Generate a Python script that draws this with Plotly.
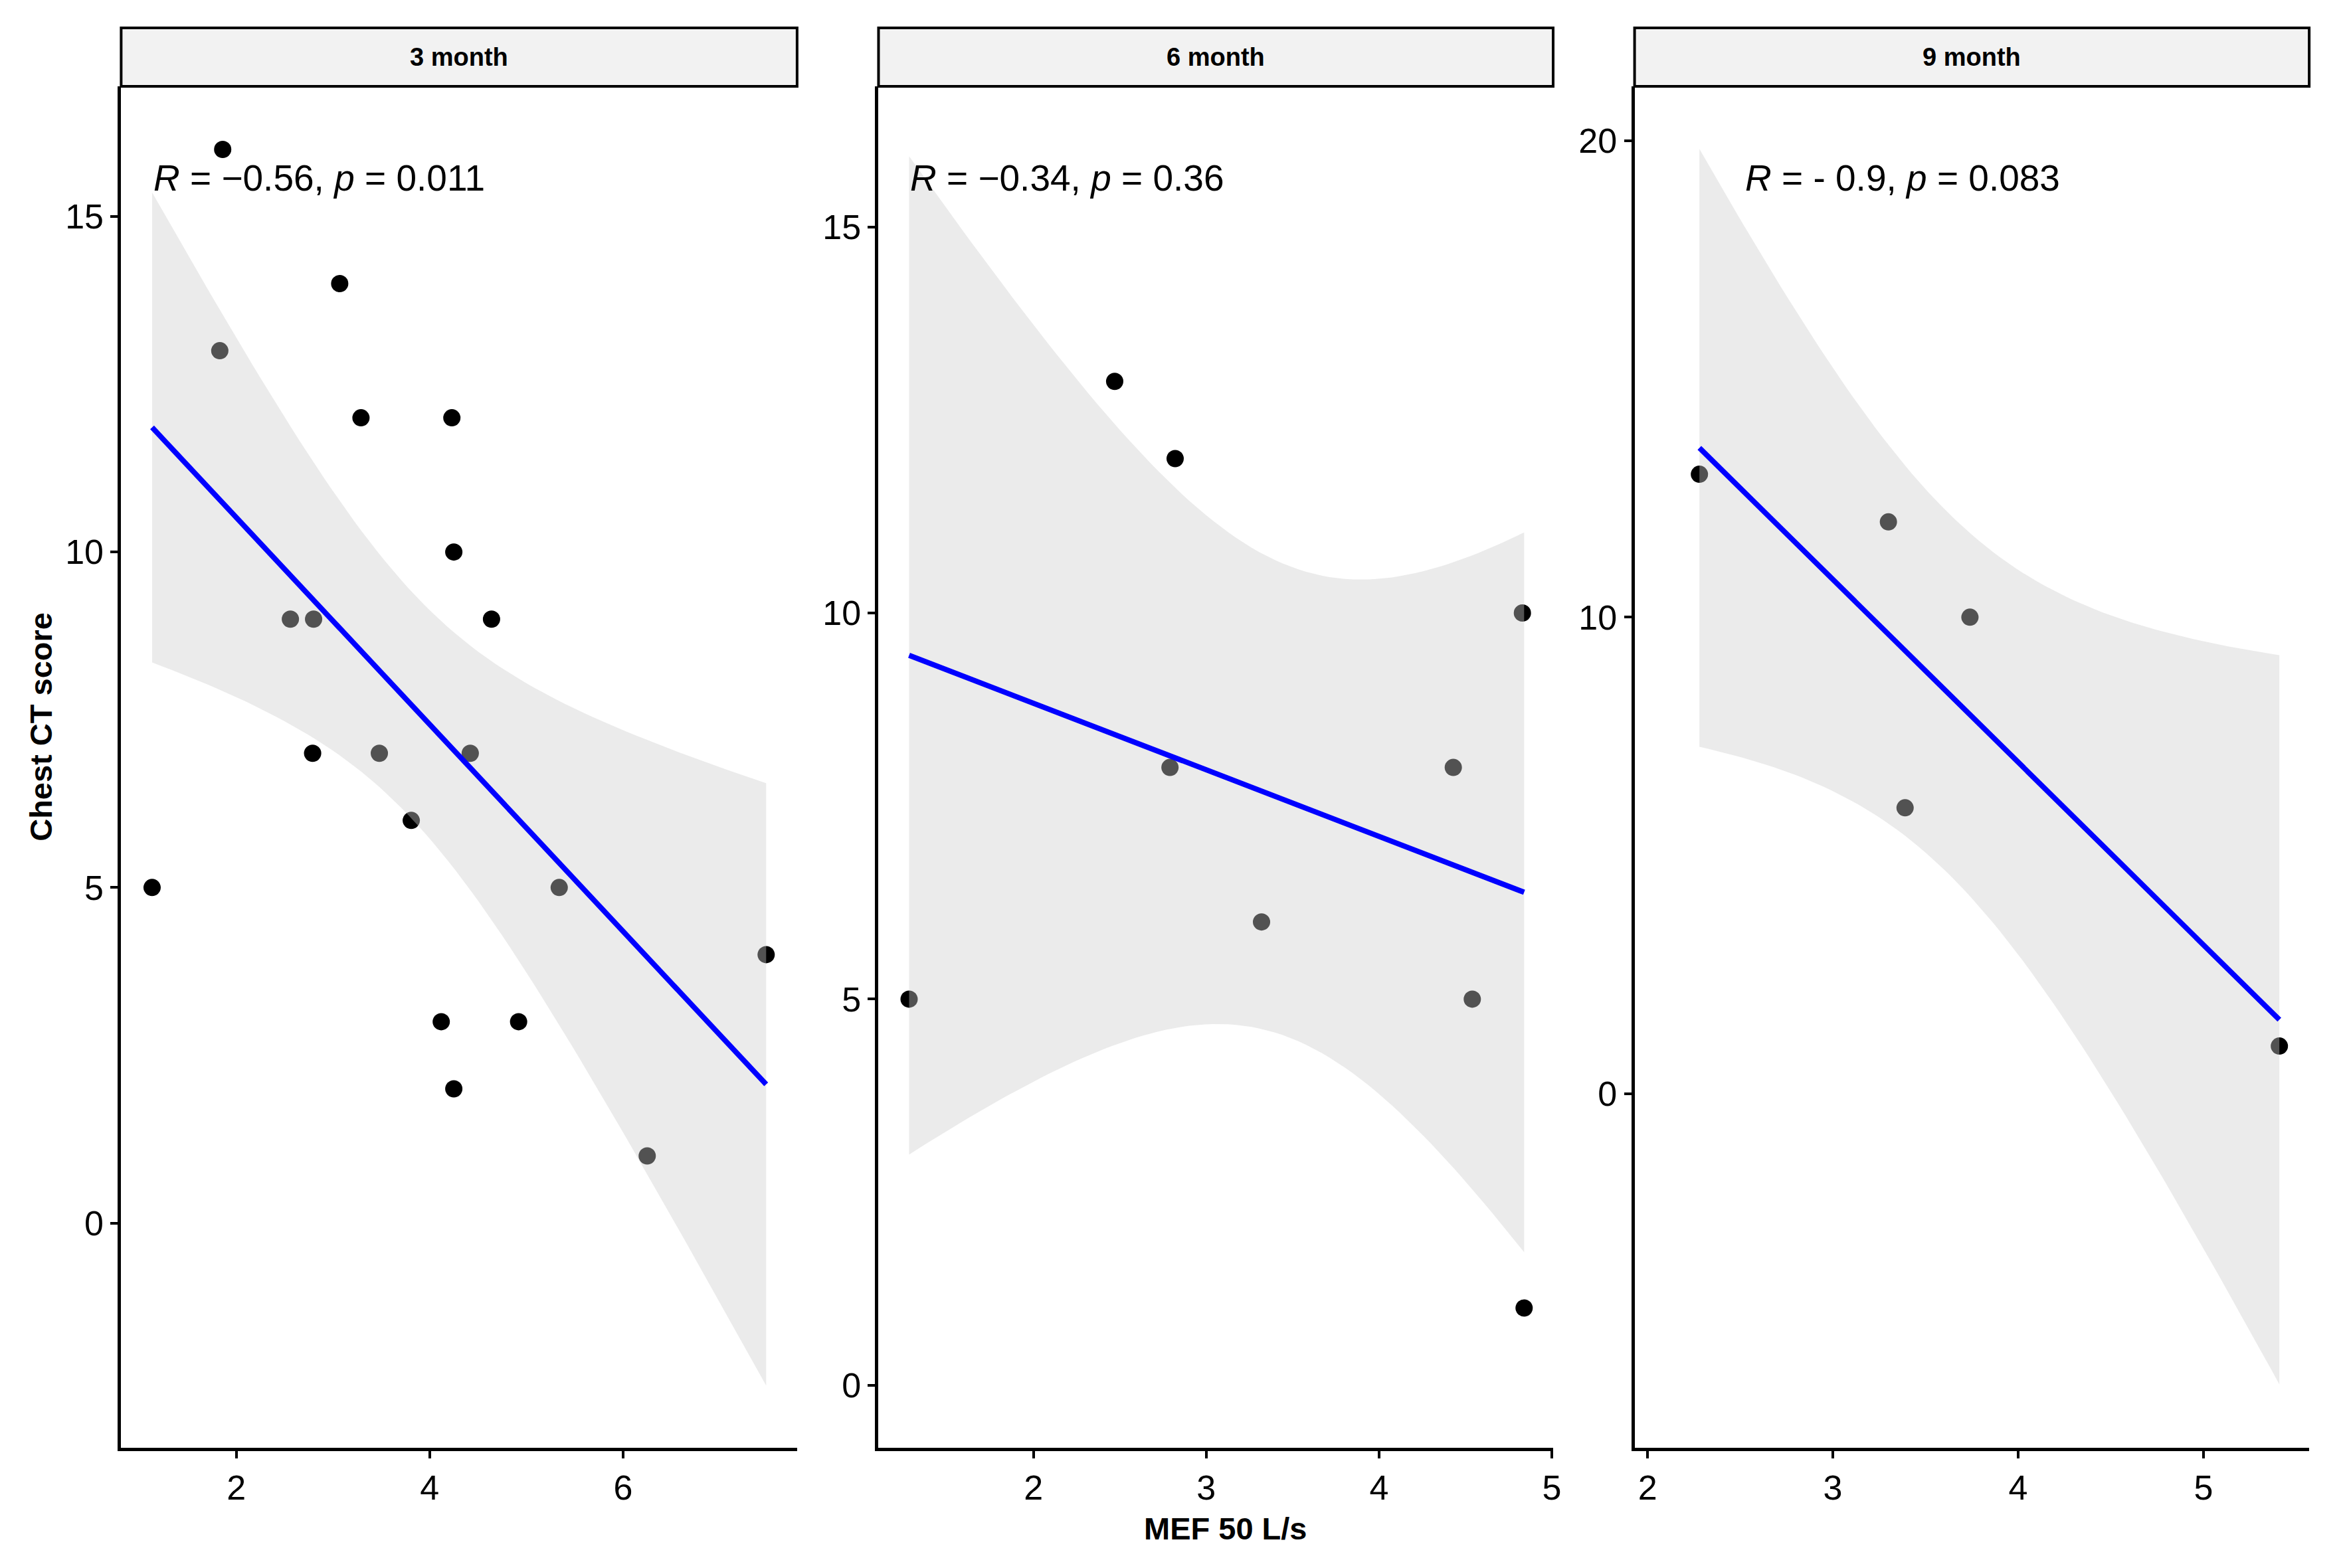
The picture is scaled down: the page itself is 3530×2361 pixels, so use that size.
import math
import numpy as np
import plotly.graph_objects as go

# ---------------- data ----------------
panels = ["3 month", "6 month", "9 month"]

mef_3m = [1.86, 3.07, 1.83, 3.29, 4.23, 4.25, 2.56, 2.80, 4.64, 2.79,
          3.48, 4.42, 3.81, 1.13, 5.34, 7.48, 4.12, 4.92, 4.25, 6.25]
ct_3m = [16, 14, 13, 12, 12, 10, 9, 9, 9, 7,
         7, 7, 6, 5, 5, 4, 3, 3, 2, 1]

mef_6m = [2.47, 2.82, 4.83, 2.79, 4.43, 3.32, 1.28, 4.54, 4.84]
ct_6m = [13, 12, 10, 8, 8, 6, 5, 5, 1]

mef_9m = [2.28, 3.30, 3.74, 3.39, 5.41]
ct_9m = [13, 12, 10, 6, 1]

cor_labels = [
    "<i>R</i> = \u22120.56, <i>p</i> = 0.011",
    "<i>R</i> = \u22120.34, <i>p</i> = 0.36",
    "<i>R</i> = - 0.9, <i>p</i> = 0.083",
]

x_title = "MEF 50 L/s"
y_title = "Chest CT score"

# ---------------- helpers ----------------
def t_pdf(x, df):
    c = math.gamma((df + 1) / 2) / (math.sqrt(df * math.pi) * math.gamma(df / 2))
    return c * (1 + x * x / df) ** (-(df + 1) / 2)


def t_quantile(p, df):
    lo, hi = 0.0, 60.0
    for _ in range(80):
        mid = (lo + hi) / 2
        xs = np.linspace(0, mid, 4001)
        area = np.trapezoid(t_pdf(xs, df), xs)
        if 0.5 + area < p:
            lo = mid
        else:
            hi = mid
    return (lo + hi) / 2


def lm_fit(x, y, n_grid=80, level=0.95):
    x = np.asarray(x, float)
    y = np.asarray(y, float)
    n = len(x)
    xb, yb = x.mean(), y.mean()
    sxx = ((x - xb) ** 2).sum()
    b = ((x - xb) * (y - yb)).sum() / sxx
    a = yb - b * xb
    resid = y - (a + b * x)
    s = math.sqrt((resid ** 2).sum() / (n - 2))
    g = np.linspace(x.min(), x.max(), n_grid)
    fit = a + b * g
    se = s * np.sqrt(1 / n + (g - xb) ** 2 / sxx)
    tq = t_quantile(0.5 + level / 2, n - 2)
    return g, fit, fit - tq * se, fit + tq * se


# ---------------- layout geometry (pixels from top-left) ----------------
W, H = 3515, 2350   # leaves room for a scrollbar in the 3530x2361 window
px_x = [(183, 1204), (1327, 2346), (2469, 3488)]
panel_top, panel_bottom = 130, 2180
strip_top = 42

x_ranges = [[0.81, 7.80], [1.103, 5.008], [1.93, 5.571]]
y_ranges = [[-3.35, 16.94], [-0.81, 16.82], [-7.43, 21.14]]
x_dticks = [2, 1, 1]
y_dticks = [5, 5, 10]
label_x = [1.13, 1.28, 2.52]

FONT = "Liberation Sans, Arial, sans-serif"

fig = go.Figure()

datasets = [(mef_3m, ct_3m), (mef_6m, ct_6m), (mef_9m, ct_9m)]

for i, (xv, yv) in enumerate(datasets):
    xa = "x" if i == 0 else f"x{i+1}"
    ya = "y" if i == 0 else f"y{i+1}"
    # points (drawn first so the ribbon shades them)
    fig.add_trace(go.Scatter(
        x=xv, y=yv, mode="markers", xaxis=xa, yaxis=ya,
        marker=dict(size=26, color="black", line=dict(width=0)),
        showlegend=False, hoverinfo="x+y"))
    g, fit, lo, hi = lm_fit(xv, yv)
    # confidence ribbon
    fig.add_trace(go.Scatter(
        x=np.concatenate([g, g[::-1]]), y=np.concatenate([hi, lo[::-1]]),
        xaxis=xa, yaxis=ya, mode="lines", fill="toself",
        fillcolor="rgba(204,204,204,0.4)", line=dict(width=0),
        showlegend=False, hoverinfo="skip"))
    # regression line
    fig.add_trace(go.Scatter(
        x=g, y=fit, xaxis=xa, yaxis=ya, mode="lines",
        line=dict(color="#0000FF", width=8),
        showlegend=False, hoverinfo="skip"))

layout = dict(
    width=W, height=H, autosize=False,
    margin=dict(l=0, r=0, t=0, b=0, pad=0),
    paper_bgcolor="white", plot_bgcolor="white",
    showlegend=False,
    font=dict(family=FONT, color="black"),
)

y_dom = [1 - panel_bottom / H, 1 - panel_top / H]
annotations = []
shapes = []
for i in range(3):
    sx = "" if i == 0 else str(i + 1)
    x0, x1 = px_x[i]
    layout[f"xaxis{sx}"] = dict(
        domain=[x0 / W, x1 / W], anchor=f"y{sx}", range=x_ranges[i],
        dtick=x_dticks[i], tick0=0, showgrid=False, zeroline=False,
        showline=True, linecolor="black", linewidth=5,
        ticks="outside", ticklen=11, tickwidth=4, tickcolor="black",
        tickfont=dict(family=FONT, size=52, color="black"))
    layout[f"yaxis{sx}"] = dict(
        domain=y_dom, anchor=f"x{sx}", range=y_ranges[i],
        dtick=y_dticks[i], tick0=0, showgrid=False, zeroline=False,
        showline=True, linecolor="black", linewidth=5,
        ticks="outside", ticklen=11, tickwidth=4, tickcolor="black",
        tickfont=dict(family=FONT, size=52, color="black"))
    # strip
    shapes.append(dict(
        type="rect", xref="paper", yref="paper",
        x0=x0 / W, x1=x1 / W, y0=1 - panel_top / H, y1=1 - strip_top / H,
        fillcolor="#f2f2f2", line=dict(color="black", width=4), layer="above"))
    annotations.append(dict(
        text=f"<b>{panels[i]}</b>", xref="paper", yref="paper",
        x=(x0 + x1) / 2 / W, y=1 - (panel_top + strip_top) / 2 / H,
        xanchor="center", yanchor="middle", showarrow=False,
        font=dict(family=FONT, size=38, color="black")))
    # correlation label
    annotations.append(dict(
        text=cor_labels[i], xref=f"x{sx}", yref=f"y{sx} domain",
        x=label_x[i], y=(panel_bottom - 268) / (panel_bottom - panel_top),
        xanchor="left", yanchor="middle", showarrow=False,
        font=dict(family=FONT, size=55, color="black")))

annotations.append(dict(
    text=f"<b>{x_title}</b>", xref="paper", yref="paper",
    x=1851 / W, y=1 - 2301 / H, xanchor="center", yanchor="middle",
    showarrow=False, font=dict(family=FONT, size=47, color="black")))
annotations.append(dict(
    text=f"<b>{y_title}</b>", xref="paper", yref="paper",
    x=61 / W, y=1 - 1094 / H, xanchor="center", yanchor="middle",
    textangle=-90, showarrow=False, font=dict(family=FONT, size=47, color="black")))

layout["annotations"] = annotations
layout["shapes"] = shapes
fig.update_layout(**layout)

fig.write_html("out.html")
